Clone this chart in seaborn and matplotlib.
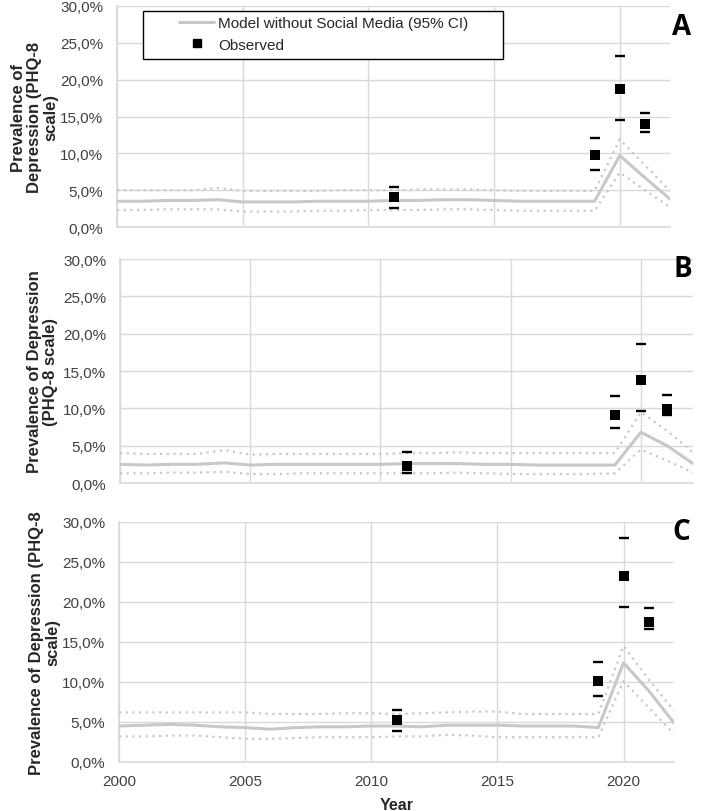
import numpy as np
import pandas as pd
import seaborn as sns
import matplotlib.pyplot as plt
from matplotlib.lines import Line2D
from matplotlib.patches import Rectangle

sns.set_theme(style="white")
plt.rcParams['font.family'] = ['Liberation Sans', 'DejaVu Sans']

years = list(range(2000, 2023))

# model without social media, % (mean, upper and lower 95% CI), per panel
a_mid = [3.5, 3.5, 3.6, 3.6, 3.7, 3.4, 3.4, 3.4, 3.5, 3.5, 3.5, 3.6, 3.6, 3.7, 3.7, 3.6, 3.5, 3.5, 3.5, 3.5, 9.7, 6.7, 3.8]
a_hi = [5.0, 5.0, 5.0, 5.0, 5.3, 4.9, 4.9, 4.9, 4.9, 5.0, 5.0, 5.0, 5.1, 5.1, 5.1, 5.0, 4.9, 4.9, 4.9, 4.9, 11.9, 8.4, 4.9]
a_lo = [2.3, 2.3, 2.4, 2.4, 2.4, 2.1, 2.1, 2.1, 2.2, 2.2, 2.3, 2.3, 2.3, 2.4, 2.4, 2.3, 2.2, 2.2, 2.2, 2.2, 7.4, 5.0, 2.7]

b_mid = [2.5, 2.4, 2.5, 2.5, 2.7, 2.4, 2.5, 2.5, 2.5, 2.5, 2.5, 2.6, 2.6, 2.6, 2.5, 2.5, 2.4, 2.4, 2.4, 2.4, 6.8, 5.0, 2.6]
b_hi = [4.0, 3.9, 3.9, 3.9, 4.4, 3.8, 3.9, 3.9, 3.9, 3.9, 3.9, 4.0, 4.0, 4.1, 4.0, 4.0, 4.0, 4.0, 4.0, 4.0, 9.5, 7.0, 4.1]
b_lo = [1.3, 1.3, 1.4, 1.4, 1.5, 1.2, 1.2, 1.3, 1.3, 1.3, 1.3, 1.3, 1.3, 1.4, 1.3, 1.2, 1.2, 1.2, 1.2, 1.3, 4.5, 3.0, 1.4]

c_mid = [4.5, 4.6, 4.7, 4.6, 4.4, 4.3, 4.1, 4.3, 4.4, 4.4, 4.5, 4.5, 4.4, 4.6, 4.6, 4.6, 4.5, 4.5, 4.5, 4.3, 12.4, 8.9, 4.9]
c_hi = [6.2, 6.2, 6.2, 6.2, 6.2, 6.2, 6.0, 6.0, 6.0, 6.1, 6.1, 6.0, 6.1, 6.2, 6.3, 6.3, 6.0, 6.0, 6.0, 6.0, 14.5, 10.3, 6.4]
c_lo = [3.2, 3.2, 3.3, 3.3, 3.1, 2.9, 2.9, 3.0, 3.1, 3.1, 3.1, 3.2, 3.2, 3.4, 3.3, 3.1, 3.1, 3.1, 3.1, 3.1, 10.1, 6.8, 3.5]

# observed prevalence with 95% CI
obs_years = [2011, 2019, 2020, 2021]
a_obs = [4.1, 9.8, 18.8, 14.0]
a_obs_hi = [5.4, 12.1, 23.2, 15.5]
a_obs_lo = [2.6, 7.8, 14.5, 12.9]

b_obs = [2.3, 9.1, 13.8, 9.9]
b_obs_hi = [4.2, 11.6, 18.6, 11.8]
b_obs_lo = [1.3, 7.35, 9.6, 9.1]

c_obs = [5.2, 10.1, 23.3, 17.5]
c_obs_hi = [6.5, 12.5, 28.0, 19.2]
c_obs_lo = [3.9, 8.2, 19.4, 16.6]

panels = [
    ("A", "Prevalence of\nDepression (PHQ-8\nscale)", a_mid, a_hi, a_lo, a_obs, a_obs_hi, a_obs_lo),
    ("B", "Prevalence of Depression\n(PHQ-8 scale)", b_mid, b_hi, b_lo, b_obs, b_obs_hi, b_obs_lo),
    ("C", "Prevalence of Depression (PHQ-8\nscale)", c_mid, c_hi, c_lo, c_obs, c_obs_hi, c_obs_lo),
]

W, H = 713, 812
# axes boxes in pixels: left, right, top, bottom
boxes = [(117, 670, 7, 228), (120, 693, 260, 484), (119, 674, 523, 763)]
letter_pos = [(672, 13), (673, 255), (672, 518)]
label_right = [58, 58, 60]

fig = plt.figure(figsize=(W / 100, H / 100), dpi=100)
line_col = "#c8c8c8"
grid_col = "#d9d9d9"
txt_col = "#404040"

for i, (letter, ylab, mid, hi, lo, obs, ohi, olo) in enumerate(panels):
    l, r, t, b = boxes[i]
    ax = fig.add_axes([l / W, 1 - b / H, (r - l) / W, (b - t) / H])
    model = pd.DataFrame({"year": years, "mid": mid, "hi": hi, "lo": lo})
    sns.lineplot(data=model, x="year", y="mid", ax=ax, color=line_col, lw=2.2, zorder=3)
    sns.lineplot(data=model, x="year", y="hi", ax=ax, color=line_col, lw=1.6, ls=(0, (1, 2)), zorder=3)
    sns.lineplot(data=model, x="year", y="lo", ax=ax, color=line_col, lw=1.6, ls=(0, (1, 2)), zorder=3)

    ob = pd.DataFrame({"year": obs_years, "obs": obs, "hi": ohi, "lo": olo})
    sns.scatterplot(data=ob, x="year", y="obs", ax=ax, marker="s", s=45, color="black",
                    edgecolor="black", linewidth=0, zorder=5)
    sns.scatterplot(data=ob, x="year", y="hi", ax=ax, marker="_", s=60, color="black",
                    linewidth=1.7, zorder=5)
    sns.scatterplot(data=ob, x="year", y="lo", ax=ax, marker="_", s=60, color="black",
                    linewidth=1.7, zorder=5)

    ax.set_xlim(2000, 2022)
    ax.set_ylim(0, 30)
    ax.set_yticks(np.arange(0, 31, 5))
    ax.set_yticklabels([f"{v:.1f}%".replace(".", ",") for v in np.arange(0, 31, 5)],
                       fontsize=11, color=txt_col)
    ax.set_xticks([2000, 2005, 2010, 2015, 2020])
    if i == 2:
        ax.set_xticklabels(["2000", "2005", "2010", "2015", "2020"], fontsize=11, color=txt_col)
        ax.set_xlabel("Year", fontsize=11.5, fontweight="bold", color="#262626")
        ax.xaxis.labelpad = 6
    else:
        ax.set_xticklabels([])
        ax.set_xlabel("")
    ax.set_ylabel(ylab, fontsize=12, fontweight="bold", color="#262626", linespacing=1.1)
    ax.yaxis.set_label_coords((label_right[i] - l) / (r - l), 0.5)
    ax.grid(True, color=grid_col, lw=1)
    ax.set_axisbelow(True)
    for s in ["top", "right"]:
        ax.spines[s].set_visible(False)
    for s in ["left", "bottom"]:
        ax.spines[s].set_color(grid_col)
        ax.spines[s].set_linewidth(1.2)
    ax.tick_params(axis="y", length=0, pad=10)
    ax.tick_params(axis="x", length=0, pad=9)
    if ax.get_legend():
        ax.get_legend().remove()
    lx, ly = letter_pos[i]
    fig.text(lx / W, 1 - ly / H, letter, fontsize=20, fontweight="bold",
             ha="left", va="top", color="black", family=["Open Sans", "DejaVu Sans"])

# legend box drawn as a white frame with the entries on top
fig.patches.append(Rectangle((143 / W, 1 - 60 / H), 360 / W, 48 / H, transform=fig.transFigure,
                             facecolor="white", edgecolor="black", lw=1.0, zorder=4))
handles = [Line2D([0], [0], color=line_col, lw=2.2),
           Line2D([0], [0], marker="s", color="black", ls="none", markersize=5.5)]
leg = fig.legend(handles, ["Model without Social Media (95% CI)", "Observed"],
                 loc="upper left", bbox_to_anchor=(179 / W, 1 - 17 / H),
                 fontsize=11, frameon=False, handlelength=2.3, handletextpad=0.25,
                 borderpad=0, labelspacing=0.5, borderaxespad=0)
leg.set_zorder(6)
for tx in leg.get_texts():
    tx.set_color("#262626")

fig.savefig("out.png", dpi=100)
